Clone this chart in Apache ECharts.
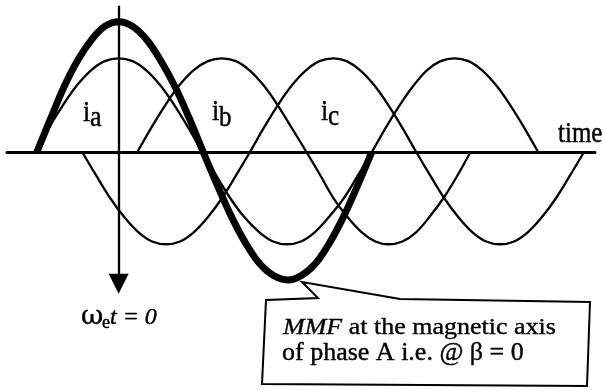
<!DOCTYPE html>
<html><head><meta charset="utf-8">
<script src="https://cdn.jsdelivr.net/npm/echarts@6/dist/echarts.min.js"></script>
<style>html,body{margin:0;padding:0;background:#fff}#c{width:603px;height:390px}</style>
</head><body><div id="c"></div>
<script>
// electrical angle (degrees, ωt = 0 at the phase-A peak) vs. per-unit value
const phaseA = [
  [-90,0],[-75,0.26],[-60,0.5],[-45,0.71],[-30,0.87],[-15,0.97],[0,1.0],[15,0.97],[30,0.87],[45,0.71],[60,0.5],[75,0.26],[90,0],
  [105,-0.25],[120,-0.49],[135,-0.69],[151,-0.85],[166,-0.95],[181,-0.98],[196,-0.95],[211,-0.85],[226,-0.69],[242,-0.49],[257,-0.25],[272,0],
  [287,0.26],[302,0.5],[317,0.71],[331,0.87],[346,0.97],[361,1.0],[376,0.97],[391,0.87],[406,0.71],[421,0.5],[436,0.26],[451,0]
];
const phaseB = [
  [20,0],[35,0.26],[50,0.5],[65,0.71],[80,0.87],[96,0.97],[111,1.0],[126,0.97],[141,0.87],[156,0.71],[171,0.5],[186,0.26],[202,0],
  [217,-0.25],[231,-0.49],[246,-0.69],[261,-0.85],[276,-0.95],[290,-0.98],[305,-0.95],[320,-0.85],[334,-0.69],[349,-0.49],[364,-0.25],[378,0]
];
const phaseC = [
  [-39,0],[-24,-0.25],[-9,-0.49],[6,-0.69],[21,-0.85],[36,-0.95],[51,-0.98],[66,-0.95],[81,-0.85],[96,-0.69],[111,-0.49],[126,-0.25],[141,0],
  [156,0.26],[171,0.5],[186,0.71],[201,0.87],[216,0.97],[231,1.0],[245,0.97],[260,0.87],[275,0.71],[290,0.5],[305,0.26],[320,0],
  [335,-0.25],[350,-0.49],[365,-0.69],[380,-0.85],[395,-0.95],[410,-0.98],[425,-0.95],[440,-0.85],[455,-0.69],[470,-0.49],[485,-0.25],[500,0]
];
const mmfA = [
  [-88,0],[-73,0.36],[-59,0.69],[-44,0.98],[-29,1.2],[-15,1.34],[0,1.39],[15,1.34],[30,1.2],[45,0.98],[61,0.69],[76,0.36],[91,0],
  [106,-0.35],[121,-0.68],[136,-0.96],[151,-1.18],[166,-1.31],[182,-1.36],[197,-1.31],[212,-1.18],[227,-0.96],[242,-0.68],[257,-0.35],[272,0]
];
const arrowFrom = [0, 1.56];
const arrowTo = [0, -1.40];
const xRange = [-120, 512];
const yRange = [-2.5, 1.6];

const SERIF = '"Liberation Serif", "Times New Roman", serif';
const meas = document.createElement('canvas').getContext('2d');
function width(str, size, italic) {
  meas.font = (italic ? 'italic ' : '') + size + 'px ' + SERIF;
  return meas.measureText(str).width;
}
function txt(str, left, baseline, size, o) {
  o = o || {};
  return {
    type: 'text', x: left, y: baseline, scaleX: o.sx || 1, scaleY: o.sy || 1,
    originX: 0, originY: 0, silent: true, z: 100,
    style: {
      text: str, x: 0, y: -0.34 * size, fill: '#000',
      stroke: '#000', lineWidth: 0.4,
      font: (o.italic ? 'italic ' : '') + size + 'px ' + (o.family || SERIF),
      textAlign: 'left', textVerticalAlign: 'middle'
    }
  };
}
const LS = 1.15;
const graphics = [
  txt('i', 83, 123, 26, {sy: LS}), txt('a', 90, 128, 26, {sy: LS}),
  txt('i', 212, 122, 26, {sy: LS}), txt('b', 219, 128, 25, {sy: LS}),
  txt('i', 321, 122, 26, {sy: LS}), txt('c', 328, 127, 25, {sy: LS}),
  txt('time', 558, 144, 25, {sy: LS}),
  txt('ω', 81, 326, 26, {family: '"DejaVu Serif", serif', sx: 1.05}), txt('e', 102, 329, 18),
  txt('t = 0', 110, 326, 24, {italic: true}),
  {
    type: 'polygon', silent: true, z: 90,
    shape: { points: [[266,300],[318,298],[302,282],[400,299],[590,302],[587,386],[262,384]] },
    style: { fill: 'none', stroke: '#000', lineWidth: 2 }
  },
  txt('MMF', 283, 336, 26, {italic: true, sy: 0.9}),
  txt(' at the magnetic axis', 283 + width('MMF', 26, true), 336, 26, {sy: 0.9}),
  txt('of phase A i.e. @ β = 0', 282, 362, 26)
];

function curve(data, lw, z) {
  return {
    type: 'line', data: data, smooth: 0.35, symbol: 'none', z: z,
    lineStyle: { color: '#000', width: lw }, silent: true, animation: false
  };
}
const sA = curve(phaseA, 2.3, 3);
sA.markLine = {
  silent: true, symbol: ['none', 'triangle'], symbolSize: 20,
  label: { show: false }, lineStyle: { color: '#000', width: 2.3, type: 'solid' },
  emphasis: { disabled: true },
  data: [[{ coord: arrowFrom }, { coord: arrowTo }]]
};
const option = {
  backgroundColor: '#fff',
  animation: false,
  grid: { left: 7, right: 8, top: 2, bottom: 3 },
  xAxis: {
    type: 'value', min: xRange[0], max: xRange[1],
    axisLine: { onZero: true, lineStyle: { color: '#000', width: 2.8 } },
    axisTick: { show: false }, axisLabel: { show: false }, splitLine: { show: false }
  },
  yAxis: {
    type: 'value', min: yRange[0], max: yRange[1], show: false, splitLine: { show: false }
  },
  series: [sA, curve(phaseB, 2.3, 3), curve(phaseC, 2.3, 3), curve(mmfA, 7, 4)],
  graphic: graphics
};
const chart = echarts.init(document.getElementById('c'), null, { renderer: 'canvas' });
chart.setOption(option);
</script></body></html>
